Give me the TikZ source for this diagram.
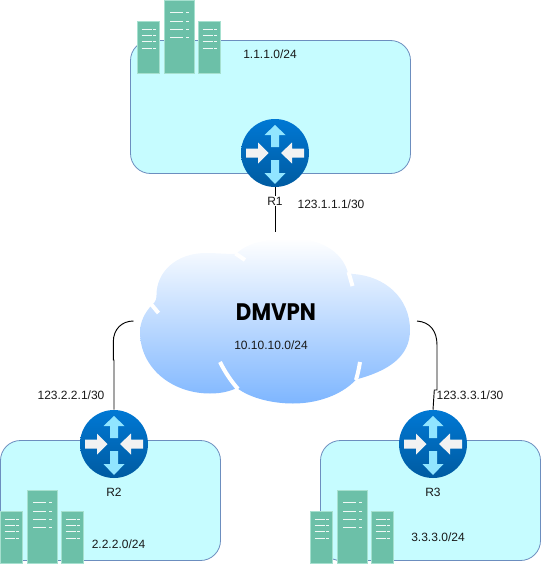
\documentclass[tikz,border=0pt]{standalone}
\usepackage{graphicx}
\usepackage{fontspec}
\setmainfont{Liberation Sans}
\newfontfamily\titlefont{Poppins}
\definecolor{lanfill}{HTML}{C6FCFF}
\definecolor{lanline}{HTML}{6C8EBF}
\definecolor{srvfill}{HTML}{6CC0A8}
\definecolor{srvline}{HTML}{A6E0CF}
\definecolor{rtop}{HTML}{0078D4}
\definecolor{rbot}{HTML}{005BA1}
\definecolor{arrowv}{HTML}{91E5FF}
\definecolor{arrowh}{HTML}{F2F2F2}
\definecolor{cloudbot}{HTML}{7EB6FF}
\tikzset{
  x=0.75pt,y=-0.75pt,
  lan/.style={draw=lanline,fill=lanfill,line width=0.6pt,rounded corners=15pt},
  router/.style={circle,minimum size=51pt,inner sep=0pt,top color=rtop,bottom color=rbot},
  lbl/.style={font=\fontsize{9}{11}\selectfont,inner sep=0pt,text=black!90},
  link/.style={draw=black,line width=0.7pt},
  crease/.style={draw=white,line width=3pt},
  srvbox/.style={fill=srvfill,draw=srvline,line width=0.7pt},
  srvdash/.style={draw=white!90!srvfill,line width=0.75pt},
  pics/rtrarrows/.style={code={
    \fill[arrowv] (0,-28) -- (10.5,-18) -- (4,-18) -- (4,-6) -- (-4,-6) -- (-4,-18) -- (-10.5,-18) -- cycle;
    \fill[arrowv] (0,31) -- (10.5,20) -- (4,20) -- (4,7) -- (-4,7) -- (-4,20) -- (-10.5,20) -- cycle;
    \fill[arrowh] (-6.5,0) -- (-17,-10.5) -- (-17,-4.5) -- (-29,-4.5) -- (-29,4.5) -- (-17,4.5) -- (-17,10.5) -- cycle;
    \fill[arrowh] (6,0) -- (17,-10.5) -- (17,-4.5) -- (29,-4.5) -- (29,4.5) -- (17,4.5) -- (17,10.5) -- cycle;
  }},
  pics/servers/.style={code={
    \foreach \xo in {0,61}{
      \path[srvbox] (\xo,21) rectangle ++(22,52);
      \foreach \yo in {29,35,41,48}{
        \draw[srvdash] (\xo+4.5,\yo) -- ++(10,0);
        \draw[srvdash] (\xo+16,\yo) -- ++(2.5,0);
      }
    }
    \path[srvbox] (27,0) rectangle (57.5,73);
    \foreach \yo in {12,21,29,37}{
      \draw[srvdash] (33,\yo) -- ++(13,0);
      \draw[srvdash] (49,\yo) -- ++(3,0);
    }
  }},
}
\begin{document}
\begin{tikzpicture}
\useasboundingbox (0,0) rectangle (541,571);
% LAN areas
\path[lan] (130.5,40.5) rectangle (410.5,173.5);
\path[lan] (0.5,440.5) rectangle (220.5,560.5);
\path[lan] (320.5,440.5) rectangle (540.5,560.5);
% servers
\pic at (137,0) {servers};
\pic at (0,490) {servers};
\pic at (310,490) {servers};
% cloud
\path[top color=white,bottom color=cloudbot]
  (140,332) .. controls (140,368) and (172,393.5) .. (210,393.5)
  .. controls (222,393.5) and (230,391) .. (237,388)
  .. controls (250,398) and (272,403.5) .. (293,403.5)
  .. controls (322,403.5) and (345,392) .. (356,379.5)
  .. controls (388,371) and (410,357) .. (410,330)
  .. controls (410,298) and (385,276) .. (353,274)
  -- (348,273)
  .. controls (342,250) and (318,238.5) .. (293,238.5)
  .. controls (268,238.5) and (248,242) .. (236,254)
  .. controls (226,254) and (216,253) .. (206,253)
  .. controls (176,253) and (156.5,272) .. (156.5,295)
  .. controls (156.5,298) and (156,302) .. (152,305)
  .. controls (145,312) and (140,322) .. (140,332) -- cycle;
\draw[crease] (220,362) .. controls (225,372) and (231,381) .. (238,389);
\draw[crease] (360,362) .. controls (359,368) and (358,373) .. (356,380);
\draw[crease] (348.5,272) -- (352.5,286);
\draw[crease] (235.5,253.5) -- (245,260);
\draw[crease] (151,304) -- (158.5,313);
% routers
\node[router] (r1) at (275,153) {};
\node[router] (r2) at (114,444) {};
\node[router] (r3) at (433,444) {};
\pic at (r1) {rtrarrows};
\pic at (r2) {rtrarrows};
\pic at (r3) {rtrarrows};
% free ends at the cloud
\coordinate (c1) at (275,232);
\coordinate (c2) at (133.5,321);
\coordinate (c3) at (417,321);
% connectors
\draw[link] (r1.south) -- (c1);
\draw[link] (r2.north) -- (114,360) -- (113.3,360) -- (113.3,342) .. controls (113.3,329) and (122,321) .. (c2);
\draw[link] (c3) .. controls (430,322) and (437,331) .. (437,345) -- (437,390) -- (434.3,390) -- (r3.north);
% labels
\node[lbl,fill=white,inner ysep=1pt] (lr1) at (275,201) {R1};
\node[lbl] (lr2) at (114,492) {R2};
\node[lbl] (lr3) at (433,492) {R3};
\node[lbl] (n1) at (270,54) {1.1.1.0/24};
\node[lbl] (n2) at (118.5,544) {2.2.2.0/24};
\node[lbl] (n3) at (438,537) {3.3.3.0/24};
\node[lbl] (i1) at (331,204.5) {123.1.1.1/30};
\node[lbl] (i2) at (71,395) {123.2.2.1/30};
\node[lbl] (i3) at (470,395) {123.3.3.1/30};
\node[lbl] (n0) at (271,345) {10.10.10.0/24};
\node[inner sep=0pt,font=\titlefont\fontsize{16}{18}\selectfont] (dm) at (276,312) {\scalebox{1}[1.12]{\textbf{DMVPN}}};
\end{tikzpicture}
\end{document}
